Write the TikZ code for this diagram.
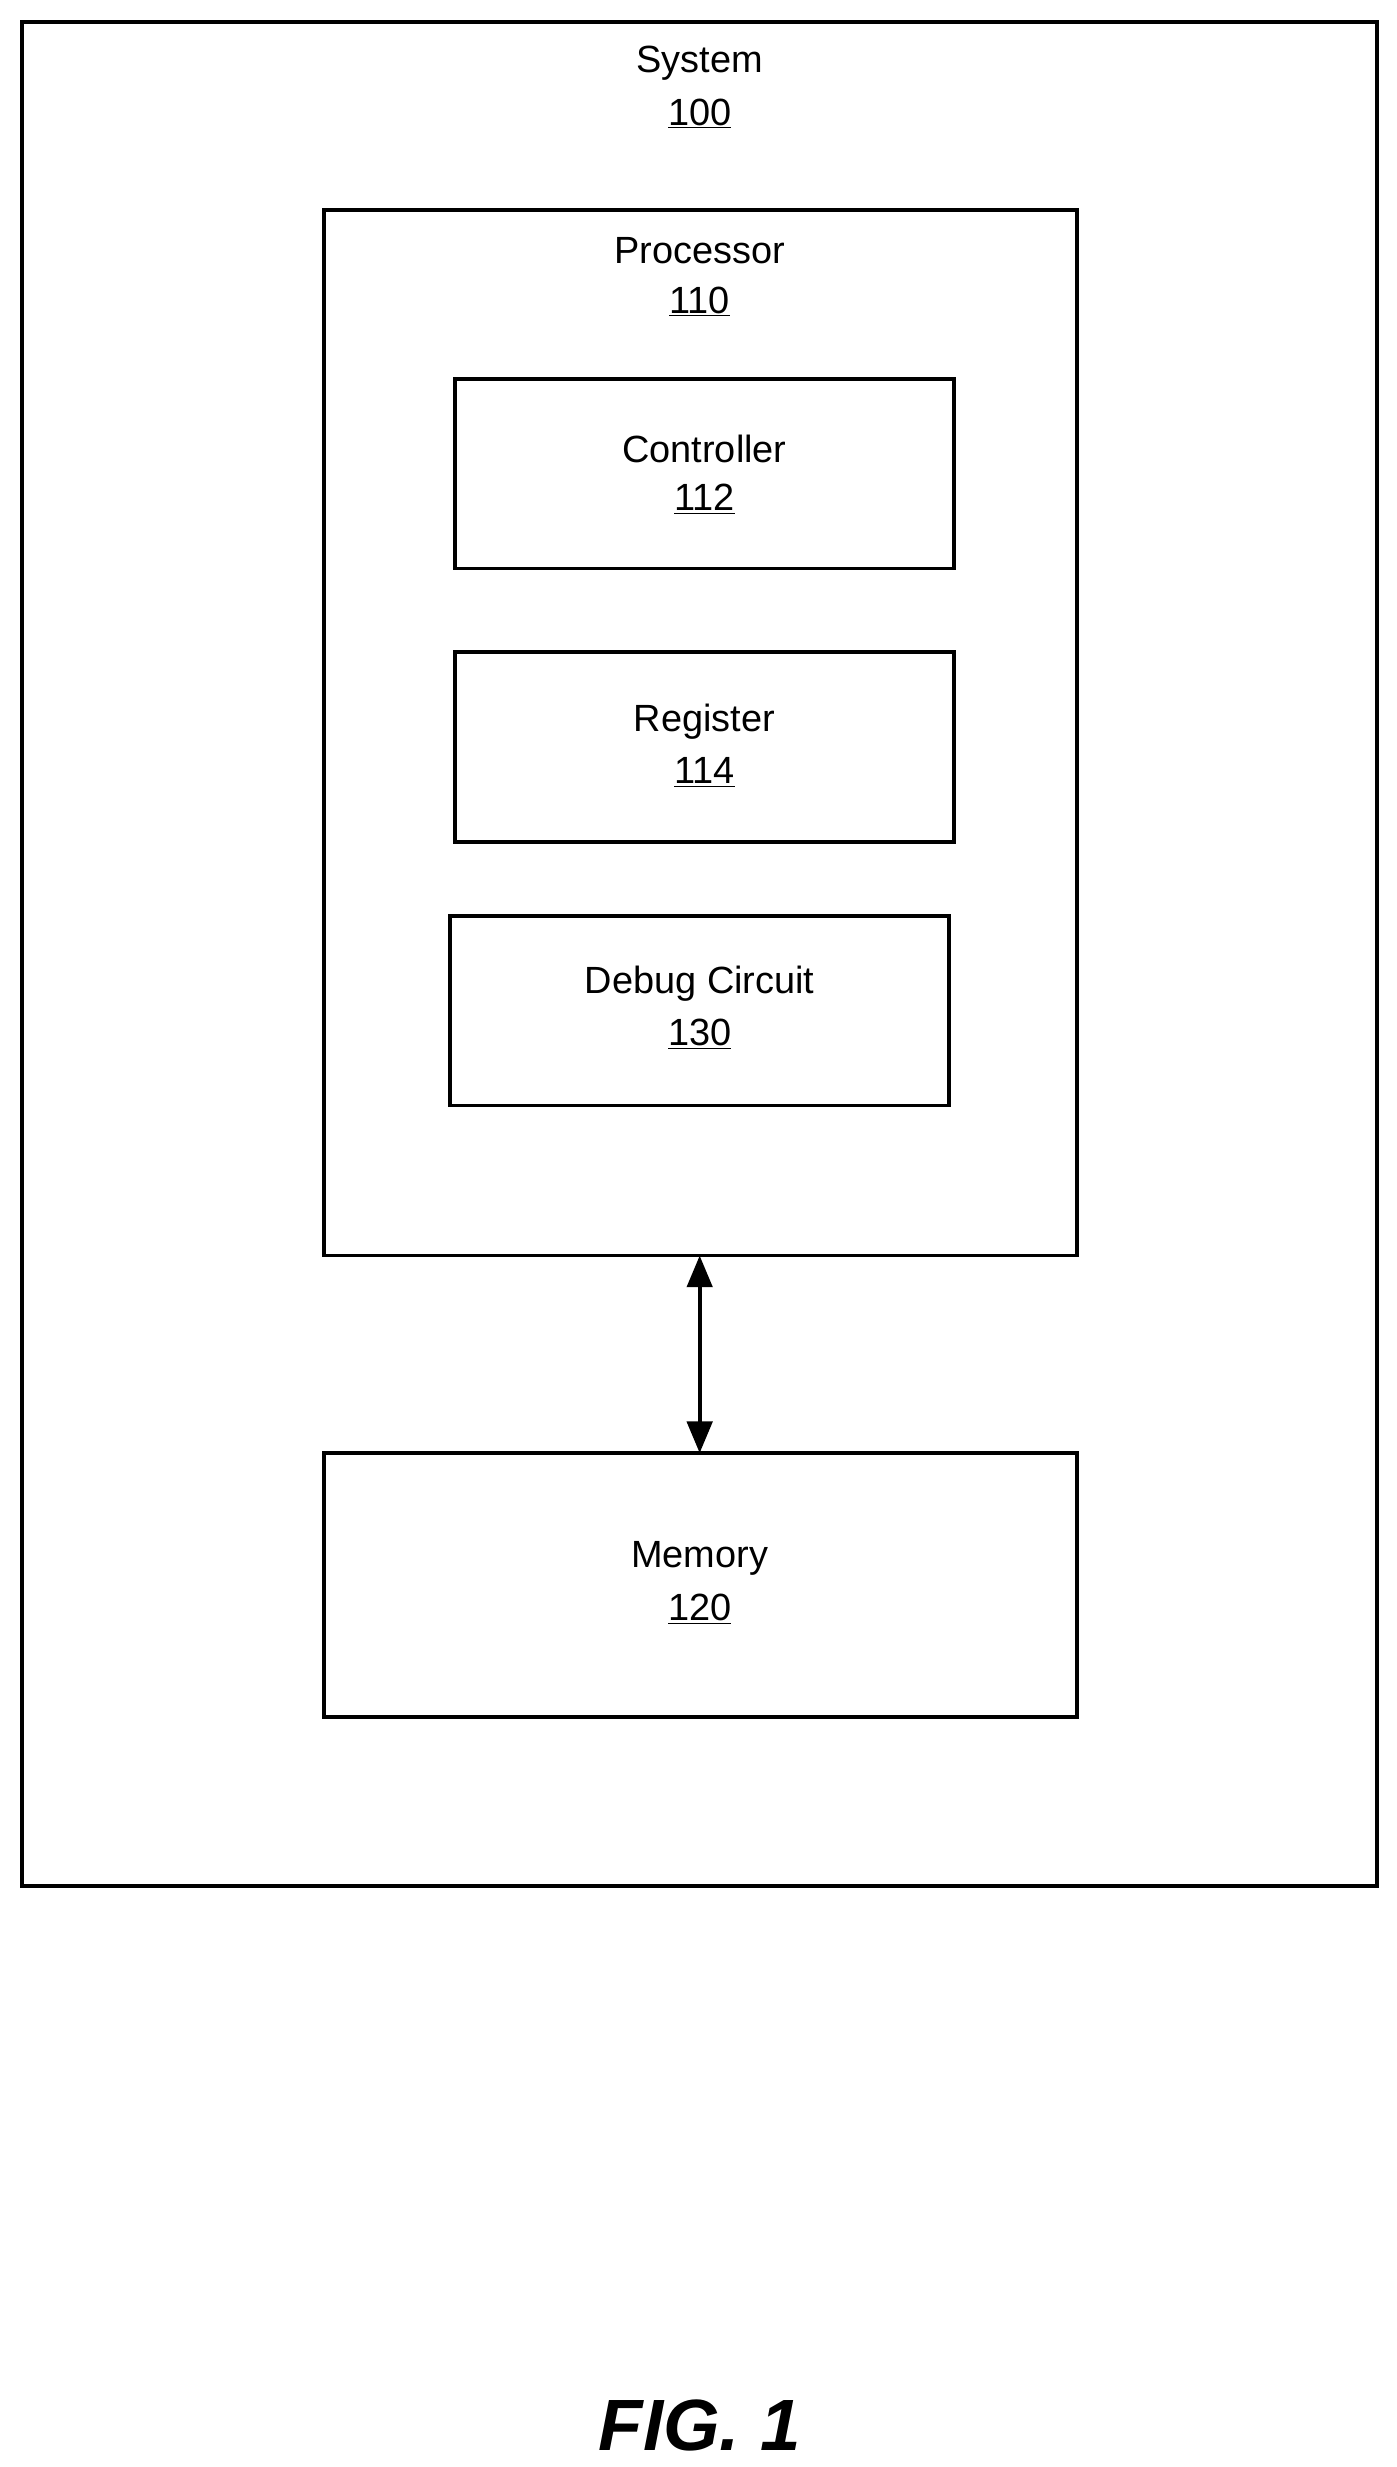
\documentclass[tikz,border=0pt]{standalone}
\usepackage{fontspec}
\setmainfont{Liberation Sans}
\usetikzlibrary{arrows.meta}
\begin{document}
\begin{tikzpicture}[x=1pt,y=-1pt,
  box/.style={draw,line width=2.3pt},
  lbl/.style={font=\fontsize{24}{28}\selectfont,align=center,inner sep=0pt}]
\useasboundingbox (0,0) rectangle (884,1562);
\draw[box] (14,14) rectangle (872,1194);
\node[lbl] (sys) at (443,40) {System};
\node[lbl] (sysn) at (443,72) {\underline{100}};
\draw[box] (205,133) rectangle (682,795);
\coordinate (procb) at (443,795);
\node[lbl] (proc) at (443,159) {Processor};
\node[lbl] (procn) at (443,191) {\underline{110}};
\draw[box] (288,240) rectangle (604,360);
\node[lbl] (ctl) at (446,284) {Controller};
\node[lbl] (ctln) at (446,316) {\underline{112}};
\draw[box] (288,413) rectangle (604,533);
\node[lbl] (reg) at (446,457) {Register};
\node[lbl] (regn) at (446,489) {\underline{114}};
\draw[box] (285,580) rectangle (601,700);
\node[lbl] (dbg) at (443,623) {Debug Circuit};
\node[lbl] (dbgn) at (443,655) {\underline{130}};
\draw[box] (205,920) rectangle (682,1087);
\coordinate (memt) at (443,920);
\node[lbl] (mem) at (443,987) {Memory};
\node[lbl] (memn) at (443,1019) {\underline{120}};
\draw[line width=2.5pt,{Triangle[length=20pt,width=16pt]}-{Triangle[length=20pt,width=16pt]}] (procb) -- (memt);
\node[font=\fontsize{46}{52}\selectfont\bfseries\itshape,inner sep=0pt] (fig) at (443,1536) {FIG. 1};
\end{tikzpicture}
\end{document}
